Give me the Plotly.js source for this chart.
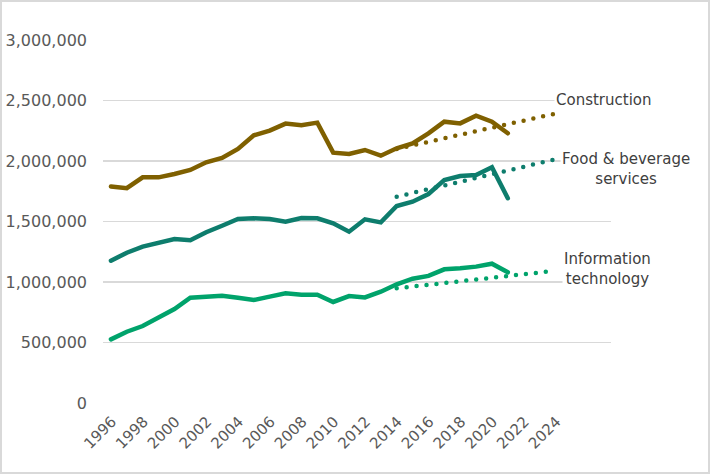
<!DOCTYPE html>
<html>
<head>
<meta charset="utf-8">
<script src="https://cdn.plot.ly/plotly-3.0.1.min.js"></script>
<style>
  html, body { margin: 0; padding: 0; background: #fff; }
  #chart { width: 710px; height: 474px; outline: 2px solid #d9d9d9; outline-offset: -2px; }
  .scatterlayer .js-line { stroke-linecap: round; }
</style>
</head>
<body>
<div id="chart"></div>
<script>
const years = [1996,1997,1998,1999,2000,2001,2002,2003,2004,2005,2006,2007,2008,2009,2010,2011,2012,2013,2014,2015,2016,2017,2018,2019,2020,2021];
const construction = [1790000,1775000,1865000,1865000,1893000,1926000,1989000,2025000,2099000,2212000,2251000,2309000,2295000,2317000,2069000,2058000,2091000,2044000,2105000,2146000,2229000,2325000,2311000,2375000,2325000,2229000];
const foodBeverage = [1176000,1242000,1292000,1325000,1355000,1345000,1411000,1465000,1521000,1526000,1521000,1498000,1529000,1526000,1485000,1416000,1518000,1493000,1628000,1664000,1727000,1843000,1876000,1884000,1948000,1692000];
const infoTech = [526000,589000,636000,708000,777000,870000,879000,887000,870000,851000,879000,906000,895000,895000,835000,884000,873000,920000,981000,1027000,1050000,1105000,1113000,1127000,1151000,1080000];

const projYears = [2014, 2024];
const constructionProj = [2100000, 2392000];
const foodBeverageProj = [1705000, 2014000];
const infoTechProj = [948000, 1093000];

const tickYears = [1996,1998,2000,2002,2004,2006,2008,2010,2012,2014,2016,2018,2020,2022,2024];
const yTicks = [0,500000,1000000,1500000,2000000,2500000,3000000];

const cConstr = '#7f6000';
const cFood = '#0e7d6d';
const cIT = '#00a36b';

const solid = (y, color, name) => ({x: years, y: y, type: 'scatter', mode: 'lines', name: name,
  line: {color: color, width: 4.5}, hoverinfo: 'skip'});
const dotted = (y, color, name) => ({x: projYears, y: y, type: 'scatter', mode: 'lines', name: name,
  line: {color: color, width: 4.5, dash: '0px,10px'}, hoverinfo: 'skip'});

const data = [
  solid(construction, cConstr, 'Construction'),
  solid(foodBeverage, cFood, 'Food & beverage services'),
  solid(infoTech, cIT, 'Information technology'),
  dotted(constructionProj, cConstr, 'Construction projection'),
  dotted(foodBeverageProj, cFood, 'Food & beverage projection'),
  dotted(infoTechProj, cIT, 'Information technology projection')
];

const font = {family: 'DejaVu Sans, sans-serif', color: '#595959', size: 15};
const annFont = {family: 'DejaVu Sans, sans-serif', color: '#404040', size: 15};

const layout = {
  width: 710, height: 474,
  margin: {l: 103, r: 99, t: 40, b: 71},
  paper_bgcolor: 'rgba(0,0,0,0)', plot_bgcolor: '#fff',
  showlegend: false,
  font: font,
  xaxis: {
    type: 'linear', range: [1995.5, 2027.5],
    tickvals: tickYears, ticktext: tickYears.map(String),
    tickangle: -45, showgrid: false, zeroline: false, showline: false,
    ticks: '', ticklabelstandoff: 6, ticklabelshift: 1,
    tickfont: {family: 'DejaVu Sans, sans-serif', size: 15, color: '#595959'}
  },
  yaxis: {
    range: [0, 3000000], tickvals: yTicks,
    ticktext: yTicks.map(v => v.toLocaleString('en-US')),
    showgrid: true, gridcolor: '#d9d9d9', gridwidth: 1.5,
    zeroline: false, showline: false, ticks: '', ticklabelstandoff: 15,
    tickfont: {family: 'DejaVu Sans, sans-serif', size: 16, color: '#595959'}
  },
  annotations: [
    {x: 2023.9, y: 2505000, xref: 'x', yref: 'y', text: 'Construction', showarrow: false,
      xanchor: 'left', yanchor: 'middle', font: annFont, bgcolor: '#fff'},
    {x: 1.0305, y: 1934000, xref: 'paper', yref: 'y', text: 'Food &amp; beverage<br>services', showarrow: false,
      xanchor: 'center', yanchor: 'middle', align: 'center', font: annFont, bgcolor: '#fff'},
    {x: 2027.3, y: 1107000, xref: 'x', yref: 'y', text: 'Information<br>technology', showarrow: false,
      xanchor: 'center', yanchor: 'middle', align: 'center', font: annFont, bgcolor: '#fff'}
  ]
};

Plotly.newPlot('chart', data, layout, {staticPlot: true, displayModeBar: false});
</script>
</body>
</html>
